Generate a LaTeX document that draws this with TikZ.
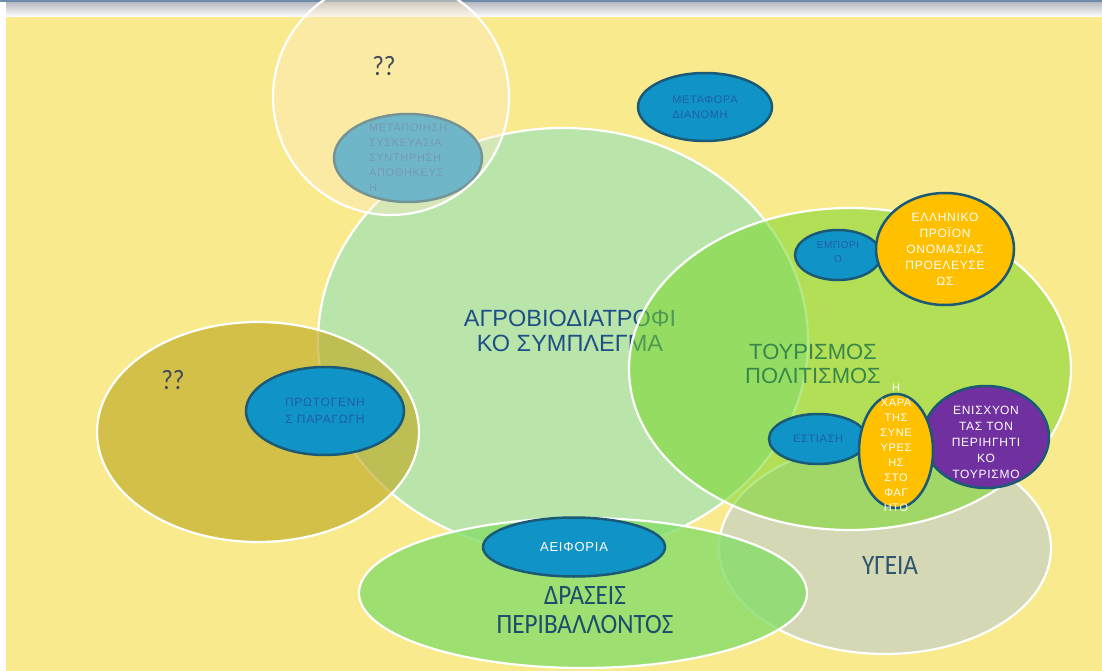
\documentclass[tikz,border=0pt]{standalone}
\usepackage{fontspec}
\setmainfont{Liberation Sans}
\newfontfamily\spacedfont[LetterSpace=6]{Liberation Sans}
\newfontfamily\condfont[FakeStretch=0.9]{Carlito}
\usetikzlibrary{shapes.geometric}

\definecolor{bgyellow}{RGB}{249,234,141}
\definecolor{bandgray}{RGB}{188,190,198}
\definecolor{topline}{RGB}{110,140,170}
\definecolor{agrogreen}{RGB}{185,229,170}
\definecolor{veil}{RGB}{255,236,200}
\definecolor{olivefill}{RGB}{192,171,38}
\definecolor{sage}{RGB}{212,216,180}
\definecolor{envgreen}{RGB}{134,221,105}
\definecolor{tourgreen}{RGB}{120,215,40}
\definecolor{bubbleblue}{RGB}{16,148,200}
\definecolor{bubbleedge}{RGB}{26,90,118}
\definecolor{bubbletext}{RGB}{30,95,165}
\definecolor{goldfill}{RGB}{255,192,0}
\definecolor{purplefill}{RGB}{112,48,160}
\definecolor{titleblue}{RGB}{30,80,135}
\definecolor{envtext}{RGB}{30,75,110}
\definecolor{healthtext}{RGB}{45,85,110}
\definecolor{tourtext}{RGB}{55,135,75}
\definecolor{slate}{RGB}{65,75,90}

\begin{document}
\begin{tikzpicture}[x=1pt, y=-1pt,
    ring/.style={draw=white, line width=2.2pt},
    bubble/.style={ellipse, draw=bubbleedge, line width=2.5pt, fill=bubbleblue, inner sep=0pt},
    bubbletxt/.style={text=bubbletext, align=center, font=\spacedfont\fontsize{11}{15}\selectfont},
    whitetxt/.style={text=white, align=center, font=\spacedfont\fontsize{12}{16}\selectfont},
    bigtxt/.style={align=center, font=\fontsize{23.5}{25}\selectfont},
    condtxt/.style={align=center, font=\condfont\fontsize{28}{29}\selectfont}]
        \useasboundingbox (0,0) rectangle (1102,671);
        % Slide background
        \fill[white] (0,0) rectangle (1102,671);
        \fill[bgyellow] (6,17) rectangle (1102,671);
        \shade[top color=bandgray, bottom color=white] (6,3) rectangle (1102,17);
        \fill[topline] (0,0) rectangle (1102,2.5);
        % Agro-food complex
        \draw[ring, fill=agrogreen] (563,341) ellipse [x radius=245, y radius=213];
        \node[bigtxt, text=titleblue] (agro) at (570,331) {ΑΓΡΟΒΙΟΔΙΑΤΡΟΦΙ\\ΚΟ ΣΥΜΠΛΕΓΜΑ};
        % Processing, seen through the upper circle
        \node[bubble, minimum width=148, minimum height=88] (proc) at (408,158) {};
        \node[bubbletxt, align=left] (proctxt) at (proc.center)
          {ΜΕΤΑΠΟΙΗΣΗ\\ΣΥΣΚΕΥΑΣΙΑ\\ΣΥΝΤΗΡΗΣΗ\\ΑΠΟΘΗΚΕΥΣ\\Η};
        % Upper circle
        \draw[ring, fill=veil, fill opacity=0.4] (391,97) circle [radius=118];
        \node[condtxt, text=slate] (qtop) at (384,66) {??};
        % Left circle
        \draw[ring, fill=olivefill, fill opacity=0.65] (258,432) ellipse [x radius=161, y radius=110];
        \node[condtxt, text=slate] (qleft) at (173,380) {??};
        % Health
        \draw[ring, fill=sage] (885,548) ellipse [x radius=166, y radius=106];
        \node[condtxt, text=healthtext] (health) at (890,566) {ΥΓΕΙΑ};
        % Environment
        \draw[ring, fill=envgreen, fill opacity=0.8] (583,593) ellipse [x radius=224, y radius=75];
        \node[condtxt, text=envtext] (env) at (585,610) {ΔΡΑΣΕΙΣ\\ΠΕΡΙΒΑΛΛΟΝΤΟΣ};
        % Tourism and culture
        \draw[ring, fill=tourgreen, fill opacity=0.55] (850,369) ellipse [x radius=221, y radius=161];
        \node[bigtxt, text=tourtext, font=\fontsize{22}{24}\selectfont] (tour) at (813,364) {ΤΟΥΡΙΣΜΟΣ\\ΠΟΛΙΤΙΣΜΟΣ};
        % Transport
        \node[bubble, minimum width=134, minimum height=68] (transp) at (705,107) {};
        \node[bubbletxt, align=left] (transptxt) at (transp.center) {ΜΕΤΑΦΟΡΑ\\ΔΙΑΝΟΜΗ};
        % Primary production
        \node[bubble, minimum width=158, minimum height=88] (prim) at (325,411) {};
        \node[bubbletxt, font=\spacedfont\fontsize{12}{17}\selectfont] (primtxt) at (prim.center) {ΠΡΩΤΟΓΕΝΗ\\Σ ΠΑΡΑΓΩΓΗ};
        % Sustainability
        \node[bubble, minimum width=182, minimum height=59] (sust) at (574,547) {};
        \node[whitetxt, font=\spacedfont\fontsize{13}{16}\selectfont] (susttxt) at (sust.center) {ΑΕΙΦΟΡΙΑ};
        % Trade and Greek product
        \node[bubble, minimum width=86, minimum height=50] (trade) at (838,255) {};
        \node[bubbletxt, font=\spacedfont\fontsize{10}{14}\selectfont] (tradetxt) at ([yshift=3pt]trade.center) {ΕΜΠΟΡΙ\\Ο};
        \node[bubble, fill=goldfill, minimum width=138, minimum height=112] (greek) at (945,249) {};
        \node[whitetxt] (greektxt) at (greek.center) {ΕΛΛΗΝΙΚΟ\\ΠΡΟΪΟΝ\\ΟΝΟΜΑΣΙΑΣ\\ΠΡΟΕΛΕΥΣΕ\\ΩΣ};
        % Dining, tourism boost, joy of food
        \node[bubble, minimum width=98, minimum height=50] (dining) at (818,439) {};
        \node[bubbletxt] (diningtxt) at (dining.center) {ΕΣΤΙΑΣΗ};
        \node[bubble, fill=purplefill, minimum width=126, minimum height=102] (boost) at (986,437) {};
        \node[whitetxt] (boosttxt) at ([yshift=-5pt]boost.center) {ΕΝΙΣΧΥΟΝ\\ΤΑΣ ΤΟΝ\\ΠΕΡΙΗΓΗΤΙ\\ΚΟ\\ΤΟΥΡΙΣΜΟ};
        \node[bubble, fill=goldfill, minimum width=74, minimum height=114] (joy) at (896,451) {};
        \node[whitetxt, font=\spacedfont\fontsize{11}{15}\selectfont] (joytxt) at ([yshift=3pt]joy.center)
          {Η\\ΧΑΡΑ\\ΤΗΣ\\ΣΥΝΕ\\ΥΡΕΣ\\ΗΣ\\ΣΤΟ\\ΦΑΓ\\ΗΤΟ};
\end{tikzpicture}
\end{document}
